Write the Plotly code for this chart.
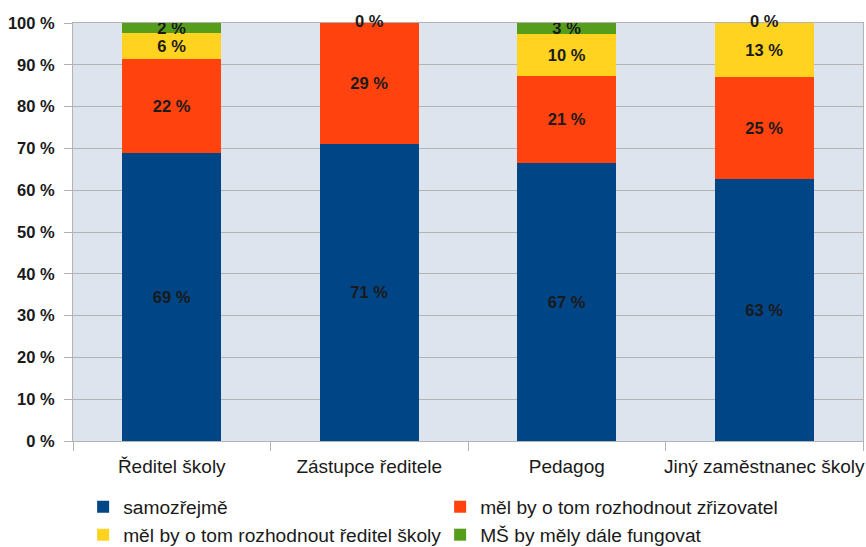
import plotly.graph_objects as go

categories = ["Ředitel školy", "Zástupce ředitele", "Pedagog", "Jiný zaměstnanec školy"]

series_names = [
    "samozřejmě",
    "měl by o tom rozhodnout zřizovatel",
    "měl by o tom rozhodnout ředitel školy",
    "MŠ by měly dále fungovat",
]
samozrejme = [69.0, 71.1, 66.6, 62.6]
zrizovatel = [22.3, 28.9, 20.7, 24.6]
reditel = [6.3, 0.0, 10.1, 12.8]
fungovat = [2.4, 0.0, 2.6, 0.0]

colors = ["#004586", "#ff420e", "#ffd320", "#579d1c"]

label_font = dict(family="Liberation Sans", size=16.5, color="#1a1a1a", weight="bold")

fig = go.Figure()

all_values = [samozrejme, zrizovatel, reditel, fungovat]
for name, vals, col in zip(series_names, all_values, colors):
    fig.add_trace(go.Bar(
        x=categories,
        y=vals,
        name=name,
        marker=dict(color=col, line=dict(width=0)),
        texttemplate="%{y:.0f} %",
        textposition="inside",
        insidetextanchor="middle",
        constraintext="none",
        textfont=label_font,
    ))

# zero values are not drawn as bars, label them at the top of the stack
for i, cat in enumerate(categories):
    if fungovat[i] == 0:
        top = samozrejme[i] + zrizovatel[i] + reditel[i] + fungovat[i]
        fig.add_annotation(
            x=cat, y=top, text="0 %", showarrow=False,
            yshift=2,
            font=label_font,
        )

fig.update_layout(
    barmode="stack",
    bargap=0.5,
    width=866,
    height=547,
    margin=dict(l=73, r=3, t=23, b=106, autoexpand=False),
    paper_bgcolor="white",
    plot_bgcolor="#dde4ee",
    font=dict(family="Liberation Sans", size=19, color="#1a1a1a"),
    legend=dict(
        orientation="h",
        traceorder="normal",
        x=0.096, xref="container",
        y=0.048, yref="container",
        xanchor="left", yanchor="middle",
        entrywidth=312,
        font=dict(size=19.2, color="#1a1a1a"),
        itemwidth=30,
        tracegroupgap=0,
    ),
    showlegend=True,
)

fig.update_yaxes(
    range=[0, 100],
    dtick=10,
    ticksuffix=" %",
    showgrid=True,
    gridcolor="#b3b3b3",
    ticks="outside",
    ticklen=8,
    tickcolor="#b3b3b3",
    ticklabelstandoff=6,
    showline=True,
    linecolor="#b3b3b3",
    mirror=True,
    tickfont=label_font,
    zeroline=False,
    automargin=False,
)
fig.update_xaxes(
    tickson="boundaries",
    ticks="outside",
    ticklen=9,
    tickcolor="#b3b3b3",
    tickangle=0,
    ticklabelstandoff=8,
    showline=True,
    linecolor="#b3b3b3",
    mirror=True,
    showgrid=False,
    tickfont=dict(family="Liberation Sans", size=19, color="#1a1a1a"),
    automargin=False,
)

# page body has a default 8px margin, drop it so the chart sits at 0,0
fig.write_html(
    "out.html",
    config={"displayModeBar": False},
    post_script="document.body.style.margin='0';",
)
